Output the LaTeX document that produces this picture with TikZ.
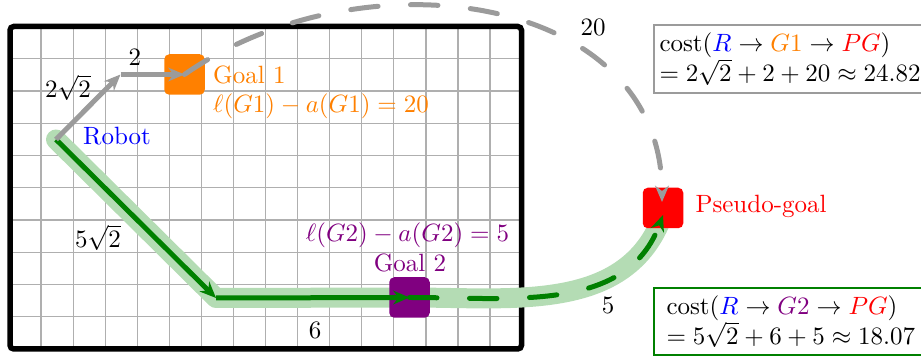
\documentclass[tikz,border=0pt]{standalone}
\usetikzlibrary{arrows.meta}
\definecolor{mypurple}{RGB}{128,0,128}
\definecolor{mygreen}{RGB}{0,128,0}
\definecolor{halocol}{RGB}{180,220,180}
\definecolor{arcgray}{RGB}{155,155,155}
\definecolor{gridgray}{RGB}{175,175,175}
\begin{document}
\begin{tikzpicture}[x=0.4pt,y=-0.4pt,
  sq/.style={minimum size=16.2pt,inner sep=0pt,rounded corners=2pt},
  lbl/.style={inner sep=0pt},
  tipst/.style={-{Stealth[length=6.5pt,width=5.5pt]}},
  grayline/.style={draw=arcgray,line width=2pt,tipst},
  greenline/.style={draw=mygreen,line width=2pt,tipst},
  dashpat/.style={dash pattern=on 11pt off 13pt,line cap=round},
  costbox/.style={draw,line width=0.8pt,align=left,inner ysep=3pt,anchor=north west}
]
\useasboundingbox (0,0) rectangle (921,358);
% grid
\foreach \i in {1,...,15} \draw[gridgray,line width=0.5pt] ({9+32.07*\i},26.5) -- ({9+32.07*\i},349);
\foreach \j in {1,...,9} \draw[gridgray,line width=0.5pt] (10,{26.5+32.25*\j}) -- (521.5,{26.5+32.25*\j});
\draw[line width=2.2pt,rounded corners=1.5pt] (10,26.5) rectangle (521.5,349);
% key points
\coordinate (r) at (56,139.5);
\coordinate (c1) at (120.5,74.5);
\coordinate (c2) at (216,298);
\coordinate (g1p) at (184.5,74.5);
\coordinate (g2p) at (409.5,297.5);
\coordinate (pgp) at (663,208);
\coordinate (e1) at (662,202);
\coordinate (e2) at (663,215);
% halo
\draw[halocol,line width=8pt,line cap=round,line join=round] (r) -- (c2) -- (g2p) .. controls (514,297.5) and (627,313) .. (e2);
% squares
\node[sq,fill=orange] (g1) at (g1p) {};
\node[sq,fill=mypurple] (g2) at (g2p) {};
\node[sq,fill=red] (pg) at (pgp) {};
% paths
\draw[greenline] (r) -- (c2);
\draw[greenline] (c2) -- (g2.center);
\draw[greenline,dashpat] (g2.center) .. controls (514,297.5) and (627,313) .. (e2);
\draw[grayline] (r) -- (c1);
\draw[grayline] (c1) -- (g1.center);
\draw[grayline,dashpat] (g1.center) .. controls (361,-49) and (662,-8) .. (e1);
% labels
\node[lbl] (l1) at (68,88) {$2\sqrt{2}$};
\node[lbl] (l2) at (135,57.5) {$2$};
\node[lbl,text=orange,anchor=west] (g1t) at (212.7,74.5) {Goal 1};
\node[lbl,text=orange,anchor=west] (g1e) at (212.7,106.7) {$\ell(G1)-a(G1)=20$};
\node[lbl,text=blue,anchor=west] (rt) at (82.7,136.5) {Robot};
\node[lbl] (l3) at (98,238) {$5\sqrt{2}$};
\node[lbl] (l4) at (315,330) {$6$};
\node[lbl,text=mypurple] (g2e) at (407.5,235.5) {$\ell(G2)-a(G2)=5$};
\node[lbl,text=mypurple] (g2t) at (410,262.5) {Goal 2};
\node[lbl] (l5) at (608,305) {$5$};
\node[lbl] (l6) at (593,27) {$20$};
\node[lbl,text=red,anchor=west] (pgt) at (695,206.5) {Pseudo-goal};
% cost boxes
\node[costbox,draw=arcgray,inner xsep=2.2pt] (b1) at (653,24.5) {$\mathrm{cost}(\textcolor{blue}{R}\to\textcolor{orange}{G1}\to\textcolor{red}{PG})$\\$=2\sqrt{2}+2+20\approx24.82$};
\node[costbox,draw=mygreen,inner xsep=5pt] (b2) at (653,287) {$\mathrm{cost}(\textcolor{blue}{R}\to\textcolor{mypurple}{G2}\to\textcolor{red}{PG})$\\$=5\sqrt{2}+6+5\approx18.07$};
\end{tikzpicture}
\end{document}
